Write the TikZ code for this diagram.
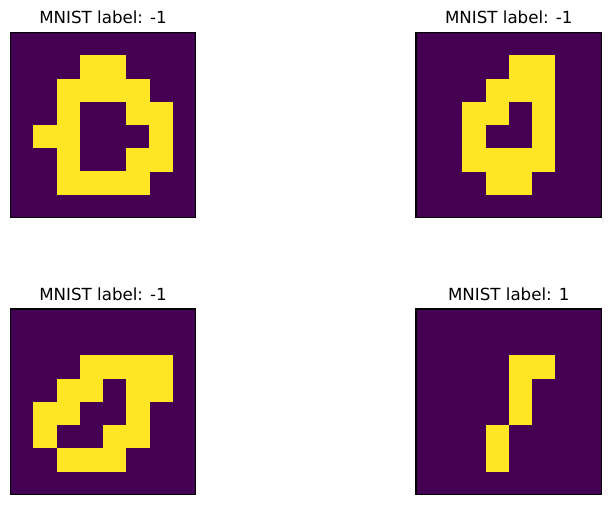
\documentclass[tikz,border=0pt]{standalone}
\usepackage{fontspec}
\setmainfont{DejaVu Sans}
\definecolor{vdark}{HTML}{440154}
\definecolor{vyellow}{HTML}{FDE725}
\tikzset{
  ttl/.style={anchor=base, font=\fontsize{16.67}{20}\selectfont, inner sep=0pt},
  spine/.style={draw=black, line width=1.1pt},
  cellfill/.style={fill=vyellow}
}
\newcommand\mnistpanel[5]{%
  \begin{scope}[shift={(#1,#2)}, x=23.19pt, y=-23.19pt]
    \fill[vdark] (0,0) rectangle (8,8);
    \foreach \r/\c in {#5} \fill[cellfill] (\c,\r) rectangle ++(1.01,1.01);
    \draw[spine] (0,0) rectangle (8,8);
    \node[ttl] (#3) at (4,-0.36) {#4};
  \end{scope}}
\begin{document}
\begin{tikzpicture}[x=1pt,y=-1pt]
\useasboundingbox (0,0) rectangle (610,504);
\fill[white] (0,0) rectangle (610,504);
\mnistpanel{10.3}{32.3}{t1}{MNIST label: -1}{1/3,1/4,2/2,2/3,2/4,2/5,3/2,3/5,3/6,4/1,4/2,4/6,5/2,5/5,5/6,6/2,6/3,6/4,6/5}
\mnistpanel{416}{32.3}{t2}{MNIST label: -1}{1/4,1/5,2/3,2/4,2/5,3/2,3/3,3/5,4/2,4/5,5/2,5/3,5/4,5/5,6/3,6/4}
\mnistpanel{10.3}{309}{t3}{MNIST label: -1}{2/3,2/4,2/5,2/6,3/2,3/3,3/5,3/6,4/1,4/2,4/5,5/1,5/4,5/5,6/2,6/3,6/4}
\mnistpanel{416}{309}{t4}{MNIST label: 1}{2/4,2/5,3/4,4/4,5/3,6/3}
\end{tikzpicture}
\end{document}
